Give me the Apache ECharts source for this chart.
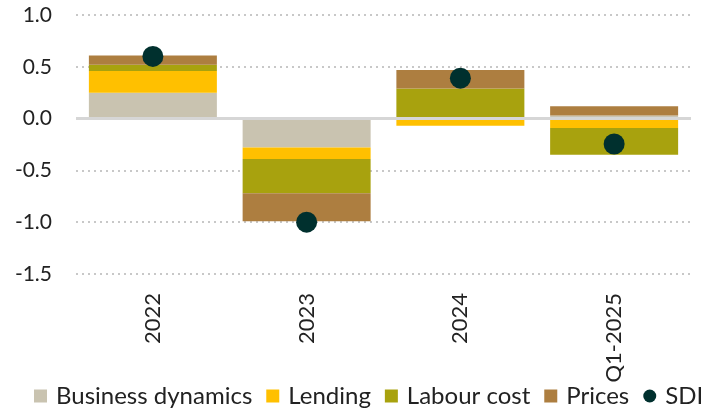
<!DOCTYPE html>
<html><head><meta charset="utf-8">
<script src="https://cdn.jsdelivr.net/npm/echarts@6/dist/echarts.min.js"></script>
<style>html,body{margin:0;padding:0;background:#fff}#c{width:704px;height:412px}</style>
</head><body><div id="c"></div>
<script>
const categories = ['2022', '2023', '2024', 'Q1-2025'];
const businessDynamics = [0.25, -0.28, 0.0, 0.03];
const lending = [0.21, -0.11, -0.07, -0.09];
const labourCost = [0.06, -0.33, 0.29, -0.26];
const prices = [0.09, -0.27, 0.18, 0.09];
const sdi = [0.60, -1.00, 0.39, -0.245];

const FONT = 'Lato';
const chart = echarts.init(document.getElementById('c'));
const barSeries = (name, data, color) => ({
  name, type: 'bar', stack: 'total', data, barWidth: 128,
  itemStyle: { color }, emphasis: { disabled: true }
});
chart.setOption({
  animation: false,
  textStyle: { fontFamily: FONT },
  grid: { left: 76, right: 13, top: 15, bottom: 138 },
  legend: {
    top: 384, left: 34, width: 700, itemWidth: 13, itemHeight: 13, itemGap: 14,
    padding: 0,
    textStyle: { fontSize: 24, color: '#222', fontFamily: FONT, padding: [0, 0, 0, 4] },
    data: [
      { name: 'Business dynamics', icon: 'rect' },
      { name: 'Lending', icon: 'rect' },
      { name: 'Labour cost', icon: 'rect' },
      { name: 'Prices', icon: 'rect' },
      { name: 'SDI', icon: 'circle' }
    ]
  },
  xAxis: {
    type: 'category', data: categories,
    axisLine: { show: false, onZero: false }, axisTick: { show: false },
    axisLabel: { rotate: 90, fontSize: 22, color: '#222', margin: 19 }
  },
  yAxis: {
    type: 'value', min: -1.5, max: 1.0, interval: 0.5,
    axisLabel: { fontSize: 21, color: '#222', margin: 24, formatter: v => v.toFixed(1) },
    splitLine: { lineStyle: { type: [2, 4], color: '#c8c8c8', width: 2 } },
    axisLine: { show: false }, axisTick: { show: false }
  },
  series: [
    barSeries('Business dynamics', businessDynamics, '#C9C3B0'),
    barSeries('Lending', lending, '#FFC000'),
    barSeries('Labour cost', labourCost, '#A8A20E'),
    Object.assign(barSeries('Prices', prices, '#AD7E40'), {
      markLine: {
        silent: true, symbol: 'none', label: { show: false },
        lineStyle: { color: '#d6d6d6', type: 'solid', width: 3 },
        data: [{ yAxis: 0 }]
      }
    }),
    {
      name: 'SDI', type: 'scatter', data: sdi, symbolSize: 21, z: 5,
      itemStyle: { color: '#00302E', opacity: 1 }, emphasis: { disabled: true }
    }
  ]
});
</script></body></html>
